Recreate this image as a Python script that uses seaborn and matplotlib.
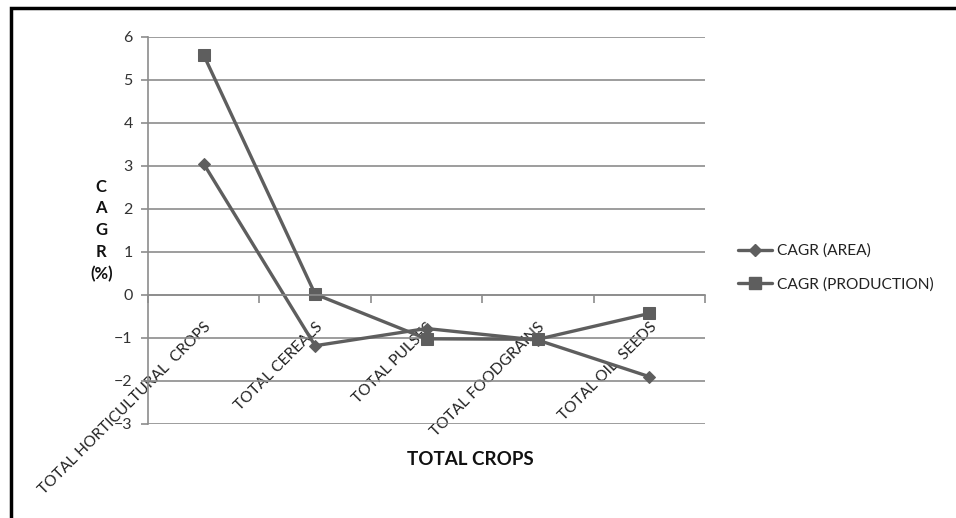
# CAGR by crop group: area vs production

import pandas as pd
import matplotlib.pyplot as plt
import seaborn as sns
from matplotlib.patches import Rectangle

sns.set_style("white")
plt.rcParams['font.family'] = ['Lato', 'DejaVu Sans']

# data
crops = ['TOTAL HORTICULTURAL  CROPS', 'TOTAL CEREALS', 'TOTAL PULSES',
         'TOTAL FOODGRAINS', 'TOTAL OIL  SEEDS']
cagr_area = [3.05, -1.18, -0.78, -1.05, -1.90]
cagr_production = [5.58, 0.02, -1.02, -1.03, -0.43]
series = ['CAGR (AREA)', 'CAGR (PRODUCTION)']

df = pd.DataFrame({
    'crop': crops * 2,
    'cagr': cagr_area + cagr_production,
    'series': [series[0]] * len(crops) + [series[1]] * len(crops),
})

line_col = '#5e5e5e'
grid_col = '#8c8c8c'

fig = plt.figure(figsize=(9.56, 5.18), dpi=100)
ax = fig.add_axes([0.1548, 0.1815, 0.5827, 0.7471])

sns.lineplot(data=df, x='crop', y='cagr', hue='series', style='series',
             markers={series[0]: 'D', series[1]: 's'}, dashes=False,
             palette={series[0]: line_col, series[1]: line_col},
             sort=False, linewidth=2.4, ax=ax, legend=False)

# marker sizes differ per series
ax.lines[0].set_markersize(6)
ax.lines[1].set_markersize(9)
for ln in ax.lines:
    ln.set_markeredgecolor(line_col)

ax.set_xlim(-0.5, len(crops) - 0.5)
ax.set_ylim(-3, 6)
ax.set_yticks(range(-3, 7))
ax.yaxis.grid(True, color=grid_col, linewidth=1.2)
ax.set_axisbelow(True)

for s in ['top', 'right']:
    ax.spines[s].set_visible(False)
ax.spines['left'].set_color(grid_col)
ax.spines['left'].set_linewidth(1.2)
ax.spines['bottom'].set_position(('data', 0))
ax.spines['bottom'].set_color(grid_col)
ax.spines['bottom'].set_linewidth(1.2)

# category boundary ticks on the zero line
ax.set_xticks(range(len(crops)))
ax.set_xticklabels(crops, rotation=45, ha='right', rotation_mode='anchor',
                   fontsize=11.2, color='#222222')
ax.set_xticks([i - 0.5 for i in range(len(crops) + 1)], minor=True)
ax.tick_params(axis='x', which='major', length=0, pad=18)
ax.tick_params(axis='x', which='minor', length=6, color=grid_col, width=1.2,
               direction='out', bottom=True)
ax.tick_params(axis='y', length=5, color=grid_col, width=1.2, left=True,
               labelsize=11.5, labelcolor='#333333', pad=6)

ax.set_xlabel('')
ax.set_ylabel('')
fig.text(0.492, 0.112, 'TOTAL CROPS', ha='center', va='center',
         fontsize=13.5, fontweight='bold', color='#111111')
fig.text(0.106, 0.555, 'C\nA\nG\nR\n(%)', ha='center', va='center',
         fontsize=12, fontweight='bold', color='#111111', linespacing=1.45)

# legend
handles = [plt.Line2D([], [], color=line_col, lw=2.4, marker='D', ms=6),
           plt.Line2D([], [], color=line_col, lw=2.4, marker='s', ms=9)]
fig.legend(handles, series, loc='center left', bbox_to_anchor=(0.757, 0.483),
           frameon=False, fontsize=11.2, handlelength=2.2, handletextpad=0.3,
           labelspacing=1.25, labelcolor='#222222')

# outer frame
fig.patches.append(Rectangle((0.012, -0.02), 1.0, 1.004, transform=fig.transFigure,
                             fill=False, edgecolor='black', linewidth=2.5))

fig.savefig('out.png', dpi=100)
